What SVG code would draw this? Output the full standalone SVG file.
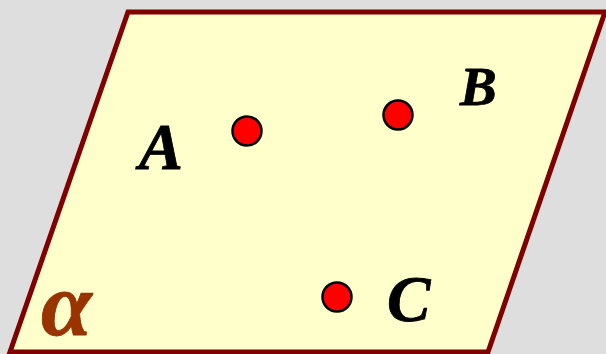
<svg xmlns="http://www.w3.org/2000/svg" width="606" height="354" viewBox="0 0 606 354">
<style>
.pt{fill:#ff0000;stroke:#000;stroke-width:2.5}
.lbl{font-family:"Liberation Serif","Times New Roman",serif;font-weight:bold;font-style:italic;fill:#000;stroke:#000;stroke-width:0.8}
</style>
<rect width="606" height="354" fill="#dedede"/>
<g id="plane">
<polygon points="128,12 605,12 488,352 10,352" fill="#ffffcc" stroke="#800000" stroke-width="5" stroke-linejoin="miter"/>
<text x="41" y="335" font-family="Liberation Serif, serif" font-weight="bold" font-style="italic" font-size="92" fill="#993300" stroke="#993300" stroke-width="0.8">α</text>
</g>
<g id="A"><circle class="pt" cx="247" cy="131" r="14.5"/><text class="lbl" x="139" y="169" font-size="66">A</text></g>
<g id="B"><circle class="pt" cx="398" cy="115" r="14.5"/><text class="lbl" x="460" y="105" font-size="55">B</text></g>
<g id="C"><circle class="pt" cx="337" cy="297" r="14.5"/><text class="lbl" x="387" y="321" font-size="65">C</text></g>
</svg>
